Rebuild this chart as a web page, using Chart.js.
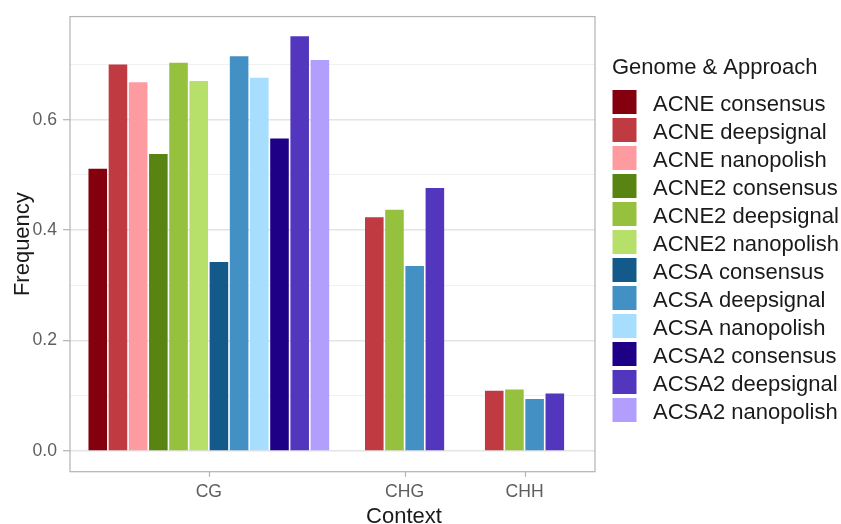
<!DOCTYPE html>
<html>
<head>
<meta charset="utf-8">
<script src="https://cdn.jsdelivr.net/npm/chart.js@4"></script>
<style>
  html, body { margin: 0; padding: 0; background: #ffffff; }
  canvas { display: block; }
</style>
</head>
<body>
<canvas id="c" width="841" height="524"></canvas>
<script>
// ---------------- DATA ----------------
const contexts = ['CG', 'CHG', 'CHH'];
const seriesLabels = [
  'ACNE consensus', 'ACNE deepsignal', 'ACNE nanopolish',
  'ACNE2 consensus', 'ACNE2 deepsignal', 'ACNE2 nanopolish',
  'ACSA consensus', 'ACSA deepsignal', 'ACSA nanopolish',
  'ACSA2 consensus', 'ACSA2 deepsignal', 'ACSA2 nanopolish'
];
const acneConsensus   = [0.511, null, null];
const acneDeepsignal  = [0.700, 0.423, 0.109];
const acneNanopolish  = [0.668, null, null];
const acne2Consensus  = [0.538, null, null];
const acne2Deepsignal = [0.703, 0.437, 0.111];
const acne2Nanopolish = [0.670, null, null];
const acsaConsensus   = [0.342, null, null];
const acsaDeepsignal  = [0.715, 0.335, 0.094];
const acsaNanopolish  = [0.676, null, null];
const acsa2Consensus  = [0.566, null, null];
const acsa2Deepsignal = [0.751, 0.476, 0.104];
const acsa2Nanopolish = [0.708, null, null];
const yTickValues = [0, 0.1, 0.2, 0.3, 0.4, 0.5, 0.6, 0.7];
const yTickLabels = ['0.0', '', '0.2', '', '0.4', '', '0.6', ''];

const seriesValues = [
  acneConsensus, acneDeepsignal, acneNanopolish,
  acne2Consensus, acne2Deepsignal, acne2Nanopolish,
  acsaConsensus, acsaDeepsignal, acsaNanopolish,
  acsa2Consensus, acsa2Deepsignal, acsa2Nanopolish
];

// ---------------- STYLE / LAYOUT ----------------
const FONT = "'Liberation Sans', Arial, Helvetica, sans-serif";
const seriesColors = [
  '#85000f', '#bf3a41', '#fd9ba0',
  '#588512', '#95c13f', '#b7e06b',
  '#13598a', '#4391c4', '#a7ddfd',
  '#1d0086', '#5237be', '#b29efc'
];
// x-axis layout in units of one bar slot
const xAxisMax = 26.0;
const contextAxisPositions = [6.875, 16.57, 22.51];

function barPosition(seriesIndex, groupIndex) {
  const present = [];
  seriesValues.forEach((vals, s) => { if (vals[groupIndex] !== null) present.push(s); });
  const j = present.indexOf(seriesIndex);
  return contextAxisPositions[groupIndex] + j - (present.length - 1) / 2;
}

const datasets = seriesLabels.map((label, s) => ({
  label: label,
  backgroundColor: seriesColors[s],
  borderWidth: 0,
  data: seriesValues[s]
    .map((v, g) => (v === null ? null : { x: barPosition(s, g), y: v }))
    .filter(p => p !== null)
}));

const overlayPlugin = {
  id: 'overlay',
  afterDraw(chart) {
    const ctx = chart.ctx;
    const a = chart.chartArea;
    ctx.save();
    // panel border
    ctx.strokeStyle = '#b3b3b3';
    ctx.lineWidth = 1.2;
    ctx.strokeRect(a.left, a.top, a.right - a.left, a.bottom - a.top);
    // x tick marks
    const xs = chart.scales.x;
    ctx.beginPath();
    xs.ticks.forEach((t, i) => {
      const px = Math.round(xs.getPixelForTick(i)) + 0.5;
      ctx.moveTo(px, a.bottom);
      ctx.lineTo(px, a.bottom + 5);
    });
    ctx.stroke();
    // x axis title
    ctx.fillStyle = '#1a1a1a';
    ctx.font = '22px ' + FONT;
    ctx.textAlign = 'center';
    ctx.textBaseline = 'alphabetic';
    ctx.fillText('Context', 404, 523);
    // legend
    ctx.textAlign = 'left';
    ctx.fillText('Genome & Approach', 612, 74);
    chart.data.datasets.forEach((ds, i) => {
      ctx.fillStyle = ds.backgroundColor;
      ctx.fillRect(612.5, 90 + 28 * i, 24, 24);
      ctx.fillStyle = '#1a1a1a';
      ctx.fillText(ds.label, 653, 111 + 28 * i);
    });
    ctx.restore();
  }
};

const bgPlugin = {
  id: 'bg',
  beforeDraw(chart) {
    const ctx = chart.ctx;
    ctx.save();
    ctx.fillStyle = '#ffffff';
    ctx.fillRect(0, 0, chart.width, chart.height);
    ctx.restore();
  }
};

new Chart(document.getElementById('c'), {
  type: 'bar',
  data: { datasets: datasets },
  plugins: [bgPlugin, overlayPlugin],
  options: {
    responsive: false,
    animation: false,
    devicePixelRatio: 1,
    layout: { padding: { left: 0, top: 14, right: 246, bottom: 0 } },
    plugins: { legend: { display: false }, tooltip: { enabled: false } },
    datasets: { bar: { grouped: false, categoryPercentage: 1, barPercentage: 0.92 } },
    scales: {
      x: {
        type: 'linear',
        min: 0,
        max: xAxisMax,
        offset: false,
        afterBuildTicks: (scale) => { scale.ticks = contextAxisPositions.map(v => ({ value: v })); },
        afterFit: (scale) => { scale.height = 52.3; },
        grid: { display: false, offset: false, drawOnChartArea: false, tickLength: 5 },
        border: { display: false },
        ticks: {
          autoSkip: false, maxRotation: 0, minRotation: 0, padding: 4.5,
          color: '#5e5e5e', font: { size: 17.6, family: FONT },
          callback: (v, i) => contexts[i]
        }
      },
      y: {
        min: -0.0378,
        max: 0.7868,
        afterBuildTicks: (scale) => { scale.ticks = yTickValues.map(v => ({ value: v })); },
        afterFit: (scale) => { scale.width = 70; },
        grid: {
          offset: false,
          color: (c) => (c.index % 2 === 0 ? '#e4e4e4' : '#f0f0f0'),
          lineWidth: (c) => (c.index % 2 === 0 ? 1.4 : 1),
          tickColor: (c) => (c.index % 2 === 0 ? '#b3b3b3' : 'rgba(0,0,0,0)'),
          tickWidth: 1.2,
          tickLength: 7
        },
        border: { display: false },
        ticks: {
          autoSkip: false, padding: 6,
          color: '#5e5e5e', font: { size: 17.6, family: FONT },
          callback: (v, i) => yTickLabels[i]
        },
        title: {
          display: true, text: 'Frequency', color: '#1a1a1a',
          font: { size: 22, family: FONT }, padding: { top: 10, bottom: 0 }
        }
      }
    }
  }
});
</script>
</body>
</html>
